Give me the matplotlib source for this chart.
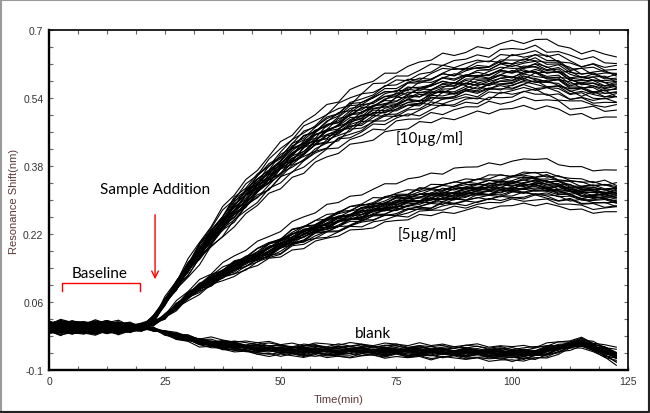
"""Resonance shift of sensor traces after sample addition (10, 5 ug/ml and blank)."""
import numpy as np
import matplotlib
matplotlib.use("Agg")
import matplotlib.pyplot as plt
from matplotlib.patches import Rectangle
from matplotlib.lines import Line2D

# time axis (min)
time_min = [0, 2.5, 5, 7.5, 10, 12.5, 15, 17.5, 20, 22.5, 25, 27.5, 30, 32.5, 35,
            37.5, 40, 42.5, 45, 47.5, 50, 52.5, 55, 57.5, 60, 62.5, 65, 67.5, 70,
            72.5, 75, 77.5, 80, 82.5, 85, 87.5, 90, 92.5, 95, 97.5, 100, 102.5,
            105, 107.5, 110, 112.5, 115, 117.5, 120, 122.5]

# group mean shift (nm)
mean_10 = [0, 0, 0, 0, 0, 0, 0, 0, 0, 0.02, 0.06, 0.10, 0.14, 0.178, 0.215,
           0.248, 0.28, 0.308, 0.335, 0.36, 0.385, 0.408, 0.43, 0.448, 0.465,
           0.48, 0.495, 0.508, 0.52, 0.53, 0.54, 0.548, 0.555, 0.563, 0.57,
           0.575, 0.58, 0.585, 0.59, 0.595, 0.60, 0.603, 0.605, 0.60, 0.595,
           0.585, 0.58, 0.578, 0.575, 0.572]
mean_5 = [0, 0, 0, 0, 0, 0, 0, 0, 0, 0.01, 0.025, 0.05, 0.075, 0.095, 0.112,
          0.128, 0.143, 0.157, 0.17, 0.184, 0.197, 0.21, 0.222, 0.233, 0.243,
          0.253, 0.262, 0.27, 0.278, 0.285, 0.292, 0.298, 0.303, 0.308, 0.313,
          0.317, 0.321, 0.325, 0.328, 0.331, 0.334, 0.337, 0.339, 0.335, 0.33,
          0.325, 0.32, 0.318, 0.316, 0.314]
mean_blank = [0, 0, 0, 0, 0, 0, 0, 0, 0, -0.004, -0.012, -0.02, -0.027, -0.033,
              -0.037, -0.041, -0.044, -0.047, -0.049, -0.051, -0.052, -0.053,
              -0.054, -0.054, -0.055, -0.055, -0.054, -0.053, -0.054, -0.055,
              -0.055, -0.056, -0.056, -0.057, -0.057, -0.058, -0.058, -0.059,
              -0.060, -0.061, -0.062, -0.062, -0.060, -0.055, -0.049, -0.041,
              -0.036, -0.046, -0.057, -0.067]

# how far the traces fan out around zero before the sample goes in
baseline_spread = [1.0, 1.0, 1.0, 1.0, 1.0, 1.0, 0.9, 0.7, 0.35, 0.0, 0.0, 0.0,
                   0.0, 0.0, 0.0, 0.0, 0.0, 0.0, 0.0, 0.0, 0.0, 0.0, 0.0, 0.0,
                   0.0, 0.0, 0.0, 0.0, 0.0, 0.0, 0.0, 0.0, 0.0, 0.0, 0.0, 0.0,
                   0.0, 0.0, 0.0, 0.0, 0.0, 0.0, 0.0, 0.0, 0.0, 0.0, 0.0, 0.0,
                   0.0, 0.0]

# per-trace gain relative to the group mean (spread of the bundle)
gain_10 = [0.86, 0.89, 0.91, 0.92, 0.93, 0.94, 0.95, 0.95, 0.96, 0.96, 0.97,
           0.97, 0.98, 0.98, 0.99, 0.99, 1.00, 1.00, 1.01, 1.01, 1.02, 1.02,
           1.03, 1.04, 1.04, 1.05, 1.06, 1.07, 1.09, 1.12]
gain_5 = [0.86, 0.89, 0.91, 0.92, 0.93, 0.94, 0.95, 0.96, 0.96, 0.97, 0.97,
          0.98, 0.98, 0.99, 0.99, 1.00, 1.00, 1.01, 1.01, 1.02, 1.02, 1.03,
          1.03, 1.04, 1.05, 1.06, 1.07, 1.08, 1.17]
gain_blank = [0.72, 0.78, 0.82, 0.85, 0.88, 0.90, 0.92, 0.94, 0.95, 0.96, 0.97,
              0.98, 0.99, 1.00, 1.00, 1.01, 1.02, 1.03, 1.04, 1.05, 1.06, 1.08,
              1.10, 1.12, 1.15, 1.18, 1.22, 1.26]

# per-trace level offset during the baseline (nm)
base_offset = [-0.010, 0.006, -0.004, 0.009, -0.007, 0.002, 0.011, -0.012,
               0.004, -0.002, 0.007, -0.008, 0.001, 0.010, -0.005, 0.003,
               -0.009, 0.008, -0.003, 0.005, -0.011, 0.012, -0.006, 0.000,
               0.006, -0.001, 0.009, -0.007, 0.004, -0.004]

# measurement wobble pattern (unitless), each trace reads it from another offset
wobble = [0.3, -0.6, 0.8, -0.2, -0.9, 0.5, 0.1, -0.4, 0.7, -0.8, 0.2, 0.6, -0.3,
          -0.7, 0.9, 0.0, -0.5, 0.4, -0.1, 0.8, -0.6, 0.3, -0.9, 0.5, 0.2, -0.4,
          0.7, -0.2, -0.8, 0.6, 0.1, -0.5, 0.9, -0.3, 0.4, -0.7, 0.0, 0.8, -0.6,
          0.2, -0.1, 0.5, -0.9, 0.7, 0.3, -0.4, 0.6, -0.8, 0.1, 0.4, -0.2, 0.9,
          -0.5, -0.3, 0.7, -0.6, 0.2, 0.5, -0.9, 0.0, 0.8, -0.4, 0.3, -0.7, 0.6,
          -0.1, -0.5, 0.9, -0.2, 0.4, -0.8, 0.1, 0.7, -0.3, -0.6, 0.5, 0.2, -0.9,
          0.8, -0.4, 0.0, 0.6, -0.7, 0.3, -0.2, 0.9, -0.5, 0.1, 0.4, -0.8, 0.7,
          -0.3, -0.1, 0.5, -0.6, 0.8, 0.2, -0.9, 0.3, -0.4, 0.6, -0.2, 0.0, 0.7,
          -0.5, 0.9, -0.8, 0.1, 0.4, -0.6]

x_ticks = [0, 25, 50, 75, 100, 125]
y_ticks = [-0.1, 0.06, 0.22, 0.38, 0.54, 0.7]
y_ticklabels = ["-0.1", "0.06", "0.22", "0.38", "0.54", "0.7"]

LABEL_COLOR = "#5c3a3a"
TICK_COLOR = "#333333"


def traces(mean, gains, amp, seed_step, shift):
    t = np.array(time_min)
    m = np.array(mean)
    spread = np.array(baseline_spread)
    n = len(t)
    out = []
    for k, g in enumerate(gains):
        off = (seed_step * k) % 60
        w = np.take(wobble, range(off, off + n), mode="wrap")
        b = base_offset[(k + shift) % len(base_offset)]
        out.append((t, m * g + amp * w + b * spread))
    return out


def main():
    plt.rcParams["font.family"] = ["Liberation Sans", "DejaVu Sans"]
    fig = plt.figure(figsize=(6.5, 4.14), dpi=100)
    ax = fig.add_axes([0.0754, 0.1039, 0.8906, 0.8212])

    for group in (traces(mean_blank, gain_blank, 0.005, 7, 0),
                  traces(mean_5, gain_5, 0.006, 11, 10),
                  traces(mean_10, gain_10, 0.008, 13, 20)):
        for t, y in group:
            ax.plot(t, y, color="black", lw=0.8)

    ax.set_xlim(0, 125)
    ax.set_ylim(-0.1, 0.7)
    ax.set_xticks(x_ticks)
    ax.set_xticks(np.arange(0, 125.1, 6.25), minor=True)
    ax.set_yticks(y_ticks)
    ax.set_yticklabels(y_ticklabels)
    ax.set_yticks(np.arange(-0.1, 0.701, 0.04), minor=True)
    ax.tick_params(which="both", direction="in", top=True, right=True,
                   length=3, width=0.8, color="#666666",
                   labelsize=7.5, labelcolor=TICK_COLOR, pad=4)
    for side in ("left", "bottom"):
        ax.spines[side].set_linewidth(1.7)
    for side in ("top", "right"):
        ax.spines[side].set_linewidth(1.2)

    ax.set_xlabel("Time(min)", fontsize=8, color=LABEL_COLOR, labelpad=6)
    ax.set_ylabel("Resonance Shift(nm)", fontsize=8, color=LABEL_COLOR,
                  labelpad=3)

    ann = dict(fontsize=11, family=["Lato", "DejaVu Sans"], color="black",
               ha="center", va="center")
    ax.text(22.9, 0.326, "Sample Addition", **ann)
    ax.annotate("", xy=(22.9, 0.107), xytext=(22.9, 0.272),
                arrowprops=dict(arrowstyle="->", color="red", lw=1.0,
                                mutation_scale=12))
    ax.text(11.0, 0.128, "Baseline", **ann)
    ax.plot([2.8, 2.8, 19.6, 19.6], [0.086, 0.105, 0.105, 0.086],
            color="red", lw=1.0)
    ax.text(82.3, 0.448, "[10\u00b5g/ml]", **ann)
    ax.text(81.6, 0.220, "[5\u00b5g/ml]", **ann)
    ax.text(70.0, -0.013, "blank", **ann)

    # outer picture frame
    fig.patches.append(Rectangle((0.002, 0.003), 0.996, 0.994,
                                 transform=fig.transFigure, fill=False,
                                 edgecolor="#9a9a9a", lw=1.5))
    fig.lines.append(Line2D([0.002, 0.998, 0.998], [0.003, 0.003, 0.997],
                            transform=fig.transFigure, color="#222222", lw=1.5))

    fig.savefig("out.png", dpi=100)


if __name__ == "__main__":
    main()
